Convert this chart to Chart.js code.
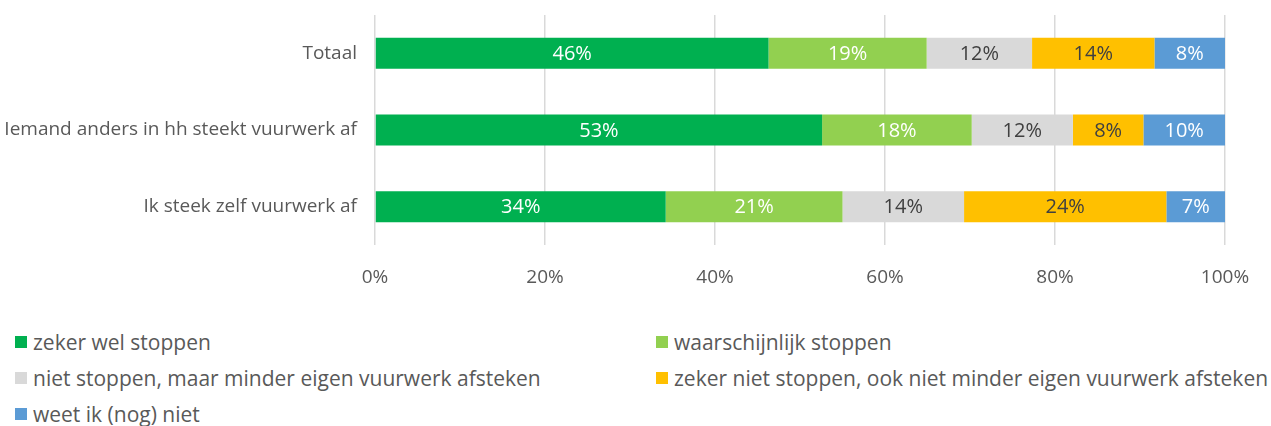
<!DOCTYPE html>
<html>
<head>
<meta charset="utf-8">
<script src="https://cdn.jsdelivr.net/npm/chart.js@4"></script>
<style>
  body { margin: 0; background: #fff; width: 1271px; height: 426px; overflow: hidden; position: relative; font-family: "Open Sans", sans-serif; }
  #wrap { position: absolute; left: 0; top: 0; width: 1271px; height: 300px; }
  #legend { position: absolute; left: 15px; top: 324px; width: 1256px; display: grid; grid-template-columns: 641px 600px; grid-auto-rows: 36px; color: #595959; font-size: 21px; }
  #legend .item { display: flex; align-items: center; white-space: nowrap; }
  #legend .box { width: 12px; height: 12px; margin-right: 6px; flex: none; }
</style>
</head>
<body>
<div id="wrap"><canvas id="chart"></canvas></div>
<div id="legend"></div>
<script>
// categories and series (percentages)
const categories = ['Totaal', 'Iemand anders in hh steekt vuurwerk af', 'Ik steek zelf vuurwerk af'];
const seriesNames = [
  'zeker wel stoppen',
  'waarschijnlijk stoppen',
  'niet stoppen, maar minder eigen vuurwerk afsteken',
  'zeker niet stoppen, ook niet minder eigen vuurwerk afsteken',
  'weet ik (nog) niet'
];
const zekerWel = [46.3, 52.6, 34.2];
const waarschijnlijk = [18.6, 17.6, 20.8];
const nietMaarMinder = [12.4, 11.9, 14.3];
const zekerNiet = [14.4, 8.3, 23.8];
const weetNiet = [8.3, 9.6, 6.9];
const xTicks = [0, 20, 40, 60, 80, 100];

const colors = ['#00B050', '#92D050', '#D9D9D9', '#FFC000', '#5B9BD5'];
const labelColors = ['#ffffff', '#ffffff', '#404040', '#404040', '#ffffff'];
const allSeries = [zekerWel, waarschijnlijk, nietMaarMinder, zekerNiet, weetNiet];

// no datalabels plugin available, so draw the % labels ourselves from the bar elements
const barLabels = {
  id: 'barLabels',
  afterDatasetsDraw(chart) {
    const ctx = chart.ctx;
    ctx.save();
    ctx.font = '20px "Open Sans"';
    ctx.textAlign = 'center';
    ctx.textBaseline = 'middle';
    chart.data.datasets.forEach((ds, i) => {
      chart.getDatasetMeta(i).data.forEach((bar, j) => {
        const mid = (bar.x + bar.base) / 2;
        ctx.fillStyle = labelColors[i];
        ctx.fillText(Math.round(ds.data[j]) + '%', mid, bar.y + 1);
      });
    });
    ctx.restore();
  }
};

const chart = new Chart(document.getElementById('chart'), {
  type: 'bar',
  data: {
    labels: categories,
    datasets: allSeries.map((d, i) => ({
      label: seriesNames[i],
      data: d,
      backgroundColor: colors[i],
      borderWidth: 0,
      barPercentage: 0.9,
      categoryPercentage: 0.45
    }))
  },
  options: {
    indexAxis: 'y',
    responsive: true,
    maintainAspectRatio: false,
    animation: false,
    layout: { padding: { top: 15, right: 46, left: 0, bottom: 0 } },
    plugins: { legend: { display: false }, tooltip: { enabled: false } },
    scales: {
      x: {
        stacked: true,
        min: 0,
        max: 100,
        afterBuildTicks: s => { s.ticks = xTicks.map(v => ({ value: v })); },
        afterFit: s => { s.height = 55; },
        grid: { color: '#D9D9D9', lineWidth: 1.5, drawTicks: false },
        border: { display: false },
        ticks: { color: '#595959', font: { family: 'Open Sans', size: 19 }, padding: 21, callback: v => v + '%' }
      },
      y: {
        stacked: true,
        // tick padding also pads the top/bottom of a vertical axis; drop that so the plot starts at the layout padding
        afterFit: s => { s.width = 375; s.paddingTop = 0; s.paddingBottom = 0; },
        grid: { display: false, drawTicks: false },
        border: { display: false },
        ticks: { color: '#595959', font: { family: 'Open Sans', size: 19 }, padding: 18 }
      }
    }
  },
  plugins: [barLabels]
});

// html legend in two columns, like the original
const legend = document.getElementById('legend');
chart.data.datasets.forEach(ds => {
  const item = document.createElement('div');
  item.className = 'item';
  item.innerHTML = '<span class="box" style="background:' + ds.backgroundColor + '"></span>' + ds.label;
  legend.appendChild(item);
});
</script>
</body>
</html>
